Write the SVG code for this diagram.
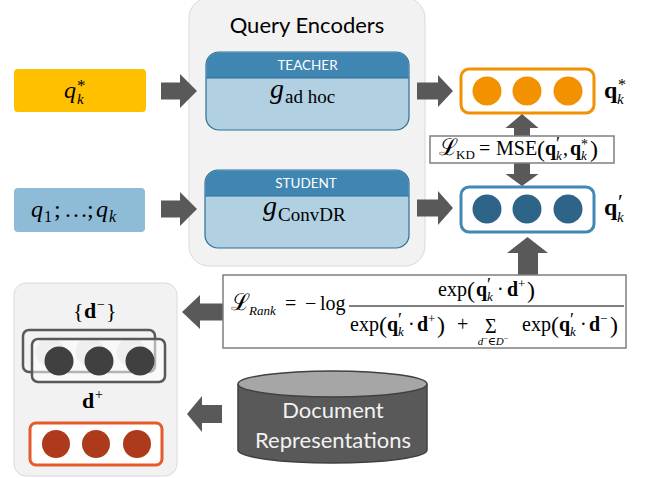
<svg xmlns="http://www.w3.org/2000/svg" width="649" height="478" viewBox="0 0 649 478">
<style>
.arrow{fill:#595959}
.panel{fill:#F2F2F2;stroke:#DADADA;stroke-width:1}
.sans{font-family:Lato,"Liberation Sans",sans-serif}
.m{font-family:"Liberation Serif","DejaVu Serif",serif;fill:#000}
.i{font-style:italic}
.b{font-weight:bold}
.hdr{fill:#3F86B2}
.body{fill:#B1D1E3;stroke:#2F6E96;stroke-width:1.2}
.hdrtxt{fill:#FFFFFF;font-size:13.5px;text-anchor:middle}
.fbox{fill:#FFFFFF;stroke:#7F7F7F;stroke-width:1.5}
</style>
<rect width="649" height="478" fill="#FFFFFF"/>

<g id="query-encoders">
<rect class="panel" x="189" y="-2" width="236" height="268" rx="20"/>
<text class="sans" x="307" y="33" font-size="22" text-anchor="middle" fill="#000">Query Encoders</text>
</g>

<g id="teacher">
<rect class="body" x="206" y="52" width="203" height="78" rx="13"/>
<path class="hdr" d="M206.6,78 V65 A12.4,12.4 0 0 1 219,52.6 H396 A12.4,12.4 0 0 1 408.4,65 V78 Z"/>
<line x1="206" y1="78" x2="409" y2="78" stroke="#2F6E96" stroke-width="1"/>
<text class="sans hdrtxt" x="307.5" y="70">TEACHER</text>
<text class="m" y="98"><tspan class="i" x="270" font-size="28">g</tspan><tspan x="285" y="103" font-size="19">ad hoc</tspan></text>
</g>

<g id="student">
<rect class="body" x="205" y="170" width="204" height="78" rx="13"/>
<path class="hdr" d="M205.6,196 V183 A12.4,12.4 0 0 1 218,170.6 H396 A12.4,12.4 0 0 1 408.4,183 V196 Z"/>
<line x1="205" y1="196" x2="409" y2="196" stroke="#2F6E96" stroke-width="1"/>
<text class="sans hdrtxt" x="306" y="188">STUDENT</text>
<text class="m" y="215"><tspan class="i" x="263" font-size="28">g</tspan><tspan x="278" y="221" font-size="19">ConvDR</tspan></text>
</g>

<g id="input-qstar">
<rect x="14" y="69" width="132" height="43" rx="4" fill="#FFC000"/>
<text class="m i" font-size="24"><tspan x="64" y="98">q</tspan><tspan x="77" y="91" font-size="17" font-style="normal">*</tspan><tspan x="77" y="104" font-size="15">k</tspan></text>
</g>

<g id="input-history">
<rect x="14" y="188" width="131" height="44" rx="4" fill="#8EBBD6"/>
<text class="m" font-size="24"><tspan class="i" x="31" y="217">q</tspan><tspan x="44" y="222" font-size="16">1</tspan><tspan x="54" y="217">;</tspan><tspan x="64" y="217">…</tspan><tspan x="87" y="217">;</tspan><tspan class="i" x="96" y="217">q</tspan><tspan class="i" x="109" y="222" font-size="16">k</tspan></text>
</g>

<g id="qstar-vector">
<rect x="461" y="69" width="133" height="44" rx="8" fill="#FFFFFF" stroke="#F39200" stroke-width="3"/>
<circle cx="487" cy="91" r="14.5" fill="#F39200"/>
<circle cx="527" cy="91" r="14.5" fill="#F39200"/>
<circle cx="568" cy="91" r="14.5" fill="#F39200"/>
<text class="m" font-size="24"><tspan class="b" x="604" y="98">q</tspan><tspan x="618" y="90" font-size="16">*</tspan><tspan class="i" x="617" y="104" font-size="15">k</tspan></text>
</g>

<g id="qprime-vector">
<rect x="461" y="187" width="133" height="45" rx="8" fill="#FFFFFF" stroke="#4189B5" stroke-width="3"/>
<circle cx="487" cy="209" r="14.5" fill="#2E6487"/>
<circle cx="527" cy="209" r="14.5" fill="#2E6487"/>
<circle cx="568" cy="209" r="14.5" fill="#2E6487"/>
<text class="m" font-size="24"><tspan class="b" x="604" y="215">q</tspan><tspan x="618" y="209" font-size="22">′</tspan><tspan class="i" x="617" y="222" font-size="15">k</tspan></text>
</g>

<g id="connectors">
<polygon class="arrow" points="161,82.5 180,82.5 180,74 197,91 180,108 180,99.5 161,99.5"/>
<polygon class="arrow" points="161,200.5 180,200.5 180,192 197,209 180,226 180,217.5 161,217.5"/>
<polygon class="arrow" points="417,82.5 438,82.5 438,75 453,91 438,107 438,99.5 417,99.5"/>
<polygon class="arrow" points="417,199.5 438,199.5 438,191 453,208 438,225 438,216.5 417,216.5"/>
<polygon class="arrow" points="522,114 538.5,128 530,128 530,174 538.5,174 522,186 505.5,174 514,174 514,128 505.5,128"/>
<polygon class="arrow" points="518,276 518,253 507,253 527.5,237 548,253 538,253 538,276"/>
<polygon class="arrow" points="224,303.5 200,303.5 200,295 182,312 200,329 200,320.5 224,320.5"/>
<polygon class="arrow" points="222,405 202,405 202,396 187,414 202,432 202,423 222,423"/>
</g>

<g id="kd-loss">
<rect class="fbox" x="430" y="136" width="184" height="27"/>
<text class="m" font-size="20" y="155"><tspan x="439" font-size="23">ℒ</tspan><tspan x="456" y="159" font-size="13">KD</tspan><tspan x="479" y="155" font-size="20">=</tspan><tspan x="496">MSE</tspan><tspan x="537" y="157" font-size="24">(</tspan><tspan class="b" x="545" y="155">q</tspan><tspan x="556" y="150" font-size="18">′</tspan><tspan class="i" x="556" y="160" font-size="13">k</tspan><tspan x="563" y="155">,</tspan><tspan class="b" x="570">q</tspan><tspan x="581" y="149" font-size="14">*</tspan><tspan class="i" x="581" y="160" font-size="13">k</tspan><tspan x="590" y="157" font-size="24">)</tspan></text>
</g>

<g id="rank-loss">
<rect class="fbox" x="223" y="275" width="403" height="73"/>
<text class="m" font-size="20" y="310"><tspan x="231" font-size="23">ℒ</tspan><tspan class="i" x="249" y="315" font-size="13">Rank</tspan><tspan x="285" y="310" font-size="20">=</tspan><tspan x="305">−</tspan><tspan x="320">log</tspan></text>
<line x1="349" y1="306" x2="624" y2="306" stroke="#000" stroke-width="1"/>
<text class="m" font-size="20" y="296"><tspan x="438">exp</tspan><tspan x="467" y="298" font-size="24">(</tspan><tspan class="b" x="476" y="296">q</tspan><tspan x="487" y="291" font-size="18">′</tspan><tspan class="i" x="487" y="301" font-size="13">k</tspan><tspan x="497" y="296">·</tspan><tspan class="b" x="507">d</tspan><tspan x="518" y="288" font-size="13">+</tspan><tspan x="527" y="298" font-size="24">)</tspan></text>
<text class="m" font-size="20" y="331"><tspan x="350">exp</tspan><tspan x="379" y="333" font-size="24">(</tspan><tspan class="b" x="387" y="331">q</tspan><tspan x="398" y="326" font-size="18">′</tspan><tspan class="i" x="398" y="336" font-size="13">k</tspan><tspan x="408" y="331">·</tspan><tspan class="b" x="417">d</tspan><tspan x="428" y="323" font-size="13">+</tspan><tspan x="437" y="333" font-size="24">)</tspan><tspan x="457" y="331">+</tspan><tspan x="485" y="333">Σ</tspan><tspan x="522" y="331">exp</tspan><tspan x="551" y="333" font-size="24">(</tspan><tspan class="b" x="559" y="331">q</tspan><tspan x="570" y="326" font-size="18">′</tspan><tspan class="i" x="570" y="336" font-size="13">k</tspan><tspan x="580" y="331">·</tspan><tspan class="b" x="589">d</tspan><tspan x="600" y="323" font-size="13">−</tspan><tspan x="610" y="333" font-size="24">)</tspan></text>
<text class="m" font-size="11" x="493" y="345" text-anchor="middle"><tspan class="i">d</tspan><tspan font-size="8" dy="-4">−</tspan><tspan dy="4">∈</tspan><tspan class="i">D</tspan><tspan font-size="8" dy="-4">−</tspan></text>
</g>

<g id="doc-vectors">
<rect class="panel" x="14" y="283" width="163" height="193" rx="12"/>
<text class="m" font-size="22" y="318"><tspan x="73">{</tspan><tspan class="b" x="84">d</tspan><tspan x="97" y="309" font-size="14">−</tspan><tspan x="106" y="318">}</tspan></text>
<rect x="23" y="330" width="132" height="42" rx="6" fill="#F2F2F2" stroke="#595959" stroke-width="2.5"/>
<circle cx="50" cy="352" r="14.5" fill="#DCDCDC"/>
<circle cx="90" cy="352" r="14.5" fill="#DCDCDC"/>
<circle cx="131" cy="352" r="14.5" fill="#DCDCDC"/>
<rect x="32" y="339" width="133" height="43" rx="6" fill="#FFFFFF" fill-opacity="0.55" stroke="#595959" stroke-width="2.5"/>
<circle cx="59" cy="361" r="14.5" fill="#404040"/>
<circle cx="99" cy="361" r="14.5" fill="#404040"/>
<circle cx="140" cy="361" r="14.5" fill="#404040"/>
<text class="m" font-size="22" y="408"><tspan class="b" x="82">d</tspan><tspan x="95" y="399" font-size="14">+</tspan></text>
<rect x="30" y="423" width="132" height="42" rx="6" fill="#FFFFFF" stroke="#E45A2A" stroke-width="3"/>
<circle cx="56" cy="444" r="14" fill="#AD3B1B"/>
<circle cx="96" cy="444" r="14" fill="#AD3B1B"/>
<circle cx="137" cy="444" r="14" fill="#AD3B1B"/>
</g>

<g id="doc-store">
<path d="M238,384 V450 A94.5,13 0 0 0 427,450 V384" fill="#595959" stroke="#404040" stroke-width="1.5"/>
<ellipse cx="332.5" cy="384" rx="94.5" ry="13" fill="#A6A6A6" stroke="#404040" stroke-width="1.5"/>
<text class="sans" font-size="22" text-anchor="middle" fill="#F2F2F2"><tspan x="333" y="418">Document</tspan><tspan x="333" y="448">Representations</tspan></text>
</g>
</svg>
